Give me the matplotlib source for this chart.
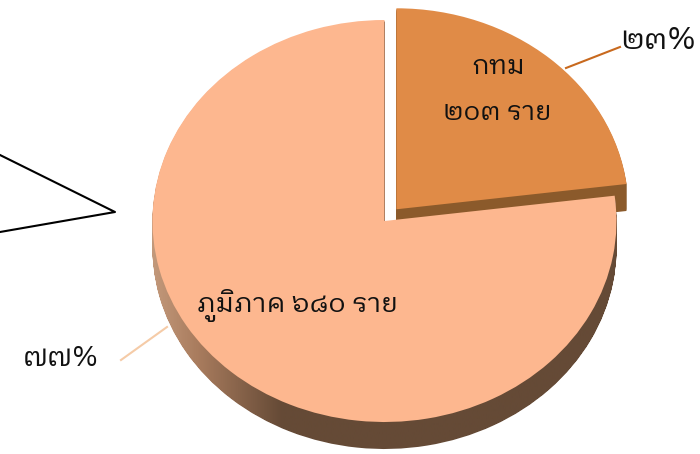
import numpy as np
import matplotlib
matplotlib.use("Agg")
import matplotlib.pyplot as plt
from matplotlib import font_manager
from matplotlib.colors import LinearSegmentedColormap
from matplotlib.patches import PathPatch
from matplotlib.path import Path

regions = ["กทม", "ภูมิภาค"]
patients = [203, 680]
shares = ["๒๓%", "๗๗%"]
unit = "ราย"
thai_counts = ["๒๐๓", "๖๘๐"]

top_colors = ["#E08B47", "#FDB78F"]

# pick the looped Thai face
thai_prop = None
for f in font_manager.findSystemFonts():
    if "IBMPlexSansThaiLooped-Regular" in f:
        thai_prop = font_manager.FontProperties(fname=f)

squash = 232 / 201
radius = 232
depth = 27
cx = 384.5
cy = (454 - 221) * squash
explode = [18, 0]

fig = plt.figure(figsize=(7, 4.54), dpi=100)
ax = fig.add_axes([0, 0, 1, 1])


def draw_pie(center, colors, z):
    wedges, _ = ax.pie(
        patients,
        explode=explode,
        colors=colors,
        radius=radius,
        center=center,
        startangle=90,
        counterclock=False,
        wedgeprops={"zorder": z, "linewidth": 0},
    )
    return wedges


# side of the small slice
for d in range(depth, 0, -1):
    draw_pie((cx, cy - d * squash), ["#8B5A2B", "none"], 1)
draw_pie((cx, cy), [top_colors[0], "none"], 2)

# side of the big slice, shaded left to right
side_paths = []
for d in range(depth, 0, -1):
    w = draw_pie((cx, cy - d * squash), ["none", "none"], 0)[1]
    side_paths.append(w.get_path().transformed(w.get_patch_transform()))
clip = PathPatch(Path.make_compound_path(*side_paths), fc="none", ec="none", transform=ax.transData)
ax.add_patch(clip)
shade = LinearSegmentedColormap.from_list(
    "side", [(0, "#C49A7C"), (0.1, "#A97C5E"), (0.28, "#654A36"), (1, "#654A36")]
)
img = ax.imshow(
    np.linspace(0, 1, 256).reshape(1, -1),
    cmap=shade,
    extent=[150, 620, 0, 454 * squash],
    aspect="auto",
    zorder=3,
)
img.set_clip_path(clip)
draw_pie((cx, cy), ["none", top_colors[1]], 4)

ax.set_aspect("auto")
ax.set_xlim(0, 700)
ax.set_ylim(0, 454 * squash)
ax.axis("off")


def px(x, y):
    return x, (454 - y) * squash


# callout lines
ax.plot(*zip(px(0, 155), px(115, 212), px(0, 232)), color="black", lw=1.5, zorder=5)
ax.plot(*zip(px(566, 68), px(620, 47)), color="#C8691E", lw=1.5, zorder=5)
ax.plot(*zip(px(121, 360), px(167, 327)), color="#F5CBA7", lw=1.5, zorder=5)

kw = {"ha": "center", "va": "center", "zorder": 6, "color": "#111111", "fontproperties": thai_prop}
ax.text(*px(498, 66), regions[0], fontsize=19, **kw)
ax.text(*px(497, 113), thai_counts[0] + " " + unit, fontsize=19, **kw)
ax.text(*px(298, 305), regions[1] + " " + thai_counts[1] + " " + unit, fontsize=19.5, **kw)
ax.text(*px(658, 40), shares[0], fontsize=22, **kw)
ax.text(*px(61, 358), shares[1], fontsize=20, **kw)

fig.savefig("out.png", dpi=100)
